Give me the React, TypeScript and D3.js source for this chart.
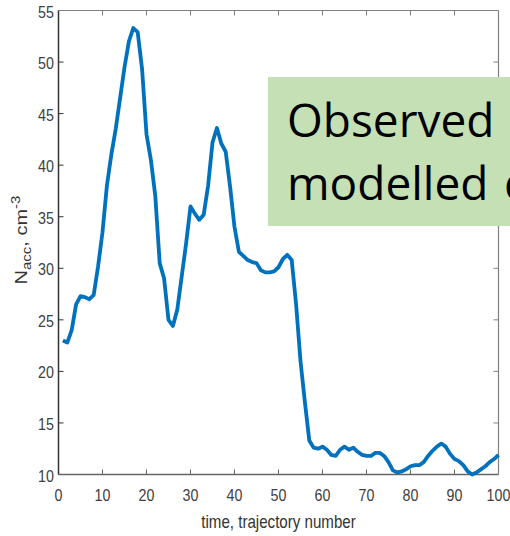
import React from 'react';
import * as d3 from 'd3';

// N_acc (cm^-3) for trajectory numbers 1..100
const nacc: number[] = [
  23.0, 22.8, 24.0, 26.5, 27.3, 27.2, 27.0, 27.4, 30.2, 33.5,
  38.0, 41.0, 43.5, 46.5, 49.5, 52.0, 53.3, 52.9, 49.3, 43.0,
  40.5, 37.0, 30.5, 29.0, 25.0, 24.4, 26.0, 29.2, 32.4, 36.0,
  35.3, 34.7, 35.2, 38.0, 42.2, 43.6, 42.1, 41.3, 37.9, 34.0,
  31.6, 31.2, 30.8, 30.6, 30.5, 29.8, 29.6, 29.6, 29.7, 30.1,
  30.9, 31.3, 30.8, 26.5, 21.0, 17.0, 13.3, 12.6, 12.5, 12.7,
  12.4, 11.9, 11.8, 12.4, 12.7, 12.4, 12.6, 12.2, 11.9, 11.8,
  11.8, 12.1, 12.1, 11.8, 11.2, 10.4, 10.2, 10.3, 10.5, 10.8,
  10.9, 10.9, 11.2, 11.8, 12.3, 12.7, 13.0, 12.7, 12.0, 11.5,
  11.3, 10.9, 10.3, 10.0, 10.2, 10.5, 10.8, 11.2, 11.5, 11.9,
];
const trajectory: number[] = nacc.map((_, i) => i + 1);

const xTicks: number[] = [0, 10, 20, 30, 40, 50, 60, 70, 80, 90, 100];
const yTicks: number[] = [10, 15, 20, 25, 30, 35, 40, 45, 50, 55];
const xLabel = 'time, trajectory number';
const noteLine1 = 'Observed';
const noteLine2 = 'modelled';
const noteLine2Tail = 'd';

export default function App() {
  const W = 510;
  const H = 536;
  const L = 58.5, T = 10.5, R = 498.5, B = 474.5;
  const x = d3.scaleLinear().domain([0, 100]).range([L, R]);
  const y = d3.scaleLinear().domain([10, 55]).range([B, T]);
  const line = d3
    .line<number>()
    .x((_, i) => x(trajectory[i]))
    .y((d) => y(d));

  const font = "'Liberation Sans', Arial, sans-serif";
  const sx = 0.84;
  const tickLen = 5;
  const textColor = '#404040';

  return (
    <svg
      width={W}
      height={H}
      viewBox={`0 0 ${W} ${H}`}
      style={{ position: 'fixed', left: 0, top: 0, background: '#fff' }}
    >
      <rect x={0} y={0} width={W} height={H} fill="#fff" />
      {/* box */}
      <line x1={L} x2={R} y1={T} y2={T} stroke="#808080" strokeWidth={1.2} />
      <line x1={R} x2={R} y1={T} y2={B} stroke="#808080" strokeWidth={1.2} />
      <line x1={L} x2={R} y1={B} y2={B} stroke="#666" strokeWidth={1.5} />
      <line x1={L} x2={L} y1={T} y2={B} stroke="#333" strokeWidth={1.5} />
      {/* x ticks */}
      {xTicks.map((t) => (
        <g key={'x' + t}>
          {t > 0 && t < 100 && (
            <>
              <line x1={x(t)} x2={x(t)} y1={B} y2={B - tickLen} stroke="#666" />
              <line x1={x(t)} x2={x(t)} y1={T} y2={T + tickLen} stroke="#808080" />
            </>
          )}
          <text
            transform={`translate(${x(t)},501) scale(${sx},1)`}
            textAnchor="middle"
            fontFamily={font}
            fontSize={17}
            fill={textColor}
          >
            {t}
          </text>
        </g>
      ))}
      {/* y ticks */}
      {yTicks.map((t) => (
        <g key={'y' + t}>
          {t > 10 && t < 55 && (
            <>
              <line x1={L} x2={L + tickLen} y1={y(t)} y2={y(t)} stroke="#333" />
              <line x1={R} x2={R - tickLen} y1={y(t)} y2={y(t)} stroke="#808080" />
            </>
          )}
          <text
            transform={`translate(54,${y(t) + 7}) scale(${sx},1)`}
            textAnchor="end"
            fontFamily={font}
            fontSize={17}
            fill={textColor}
          >
            {t}
          </text>
        </g>
      ))}
      {/* axis labels */}
      <text
        transform={`translate(${(L + R) / 2},528) scale(${sx},1)`}
        textAnchor="middle"
        fontFamily={font}
        fontSize={18}
        fill="#333"
      >
        {xLabel}
      </text>
      <text
        transform={`translate(27, 240) scale(${sx},1) rotate(-90)`}
        textAnchor="middle"
        fontFamily={font}
        fontSize={20}
        fill="#333"
      >
        N
        <tspan fontSize={15} dy={5}>acc</tspan>
        <tspan dy={-5}>, cm</tspan>
        <tspan fontSize={15} dy={-8}>-3</tspan>
      </text>
      {/* data line */}
      <path d={line(nacc) ?? ''} fill="none" stroke="#0072BD" strokeWidth={3.8} strokeLinejoin="round" />
      {/* annotation box */}
      <rect x={268} y={77} width={260} height={149} fill="#C5E0B4" />
      <text x={287} y={137} fontFamily="'Open Sans', 'Noto Sans', sans-serif" fontSize={46} fill="#000">
        {noteLine1}
      </text>
      <text x={287} y={200} fontFamily="'Open Sans', 'Noto Sans', sans-serif" fontSize={46} fill="#000">
        {noteLine2}
        <tspan x={504}>{noteLine2Tail}</tspan>
      </text>
    </svg>
  );
}
